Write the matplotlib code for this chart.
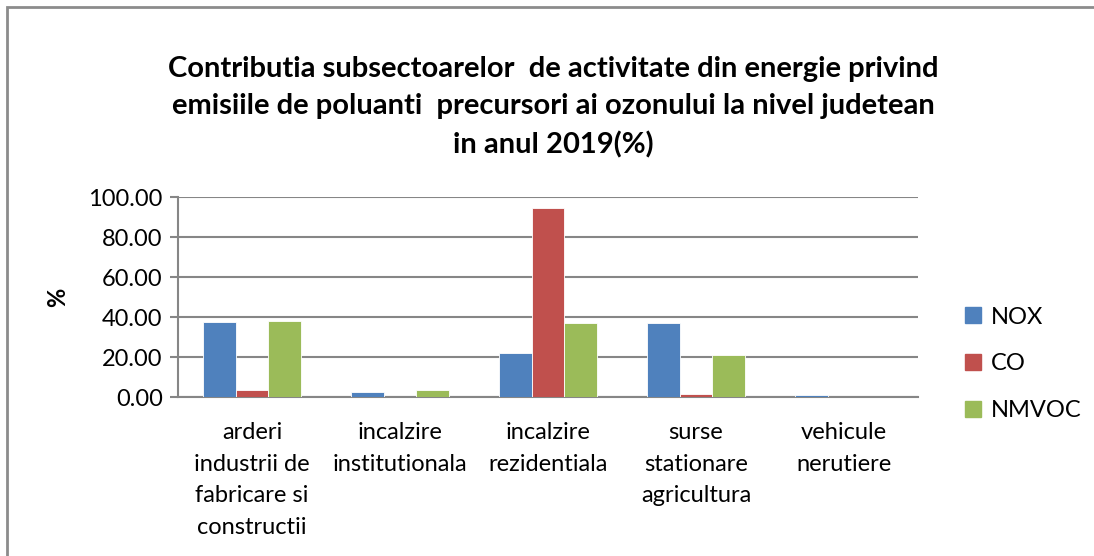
import matplotlib
matplotlib.use("Agg")
import matplotlib.pyplot as plt
import numpy as np
from matplotlib.patches import Rectangle

categories = ["arderi\nindustrii de\nfabricare si\nconstructii",
              "incalzire\ninstitutionala",
              "incalzire\nrezidentiala",
              "surse\nstationare\nagricultura",
              "vehicule\nnerutiere"]
series_names = ["NOX", "CO", "NMVOC"]
nox = [37.3, 2.7, 22.0, 37.2, 0.8]
co = [3.7, 0.1, 94.5, 1.5, 0.0]
nmvoc = [38.2, 3.7, 37.0, 21.2, 0.1]
colors = ["#4F81BD", "#C0504D", "#9BBB59"]
title = ("Contributia subsectoarelor  de activitate din energie privind\n"
         "emisiile de poluanti  precursori ai ozonului la nivel judetean\n"
         "in anul 2019(%)")

plt.rcParams['font.family'] = ['Lato', 'DejaVu Sans']

fig = plt.figure(figsize=(10.94, 5.56), dpi=100)
fig.patch.set_facecolor('white')
# chart border
fig.add_artist(Rectangle((7/1094, -0.1), 1.2, (556-7)/556 + 0.1, transform=fig.transFigure,
                         fill=False, edgecolor='#8c8c8c', linewidth=2))

ax = fig.add_axes([178/1094, 1-397/556, (918-178)/1094, 200/556])
x = np.arange(len(categories))
w = 0.22
for i, (vals, c, name) in enumerate(zip([nox, co, nmvoc], colors, series_names)):
    ax.bar(x + (i-1)*w, vals, width=w, color=c, edgecolor='white', linewidth=0.6, label=name, zorder=3)

ax.set_xlim(-0.5, len(categories)-0.5)
ax.set_ylim(0, 100)
ax.set_yticks(np.arange(0, 101, 20))
ax.yaxis.set_major_formatter(matplotlib.ticker.FormatStrFormatter('%.2f'))
ax.grid(axis='y', color='#868686', linewidth=1.5, zorder=0)
for s in ['top', 'right']:
    ax.spines[s].set_visible(False)
ax.spines['left'].set_color('#868686')
ax.spines['left'].set_linewidth(1.5)
ax.spines['bottom'].set_color('#868686')
ax.spines['bottom'].set_linewidth(1.5)
ax.tick_params(axis='y', length=6, width=1.5, color='#868686', labelsize=17, pad=5)
ax.tick_params(axis='x', length=0, labelsize=17, pad=18)
ax.set_xticks(x)
ax.set_xticklabels(categories, linespacing=1.62)
ax.set_ylabel('%', fontsize=17, fontweight='bold', labelpad=14)

fig.text(553/1094, 1-107/556, title, ha='center', va='center', fontsize=21,
         fontweight='bold', linespacing=1.55)

handles = [Rectangle((0, 0), 1, 1, color=c) for c in colors]
fig.legend(handles, series_names, loc='center left', bbox_to_anchor=(944/1094, 1-364/556),
           frameon=False, fontsize=17, handlelength=0.65, handleheight=0.65,
           labelspacing=1.1, handletextpad=0.45)

fig.savefig('out.png', dpi=100)
